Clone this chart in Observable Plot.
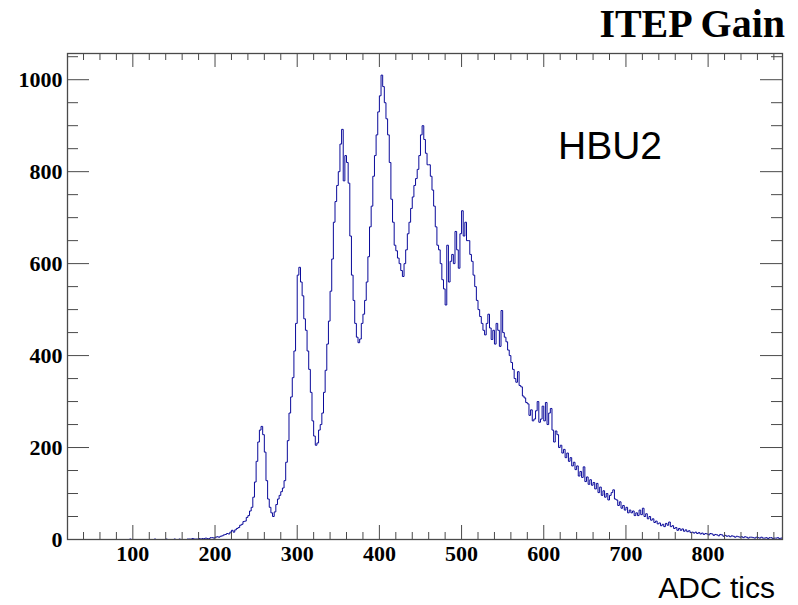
<!DOCTYPE html>
<html>
<head>
<meta charset="utf-8">
<script src="https://cdn.jsdelivr.net/npm/d3@7"></script>
<script src="https://cdn.jsdelivr.net/npm/@observablehq/plot@0.6"></script>
<style>
  html, body { margin: 0; padding: 0; background: white; }
  #chart { width: 798px; height: 605px; }
</style>
</head>
<body>
<div id="chart"></div>
<script>
// Histogram: ADC tics, bins of width 2 starting at 20
const binStart = 20;
const binWidth = 2;
const counts = [
  0,0,0,0,0,0,0,0,0,0,0,0,0,0,0,0,0,0,0,0,
  0,0,0,0,0,0,0,0,0,0,0,0,0,0,0,0,0,0,1,0,
  0,0,0,0,0,0,0,0,0,0,0,0,0,1,0,0,0,0,0,0,
  1,0,0,0,0,1,0,0,1,0,0,0,0,1,1,1,2,1,1,1,
  2,1,2,2,3,2,2,4,4,3,5,6,5,7,8,10,11,13,12,16,
  20,16,21,24,26,31,33,39,40,48,52,62,70,92,125,170,212,238,246,228,
  190,128,88,70,58,50,60,76,88,96,104,112,128,168,215,275,310,352,410,470,
  575,592,560,530,480,455,410,370,320,258,225,205,210,238,250,275,320,368,425,475,
  540,610,690,735,770,800,860,892,780,835,820,775,660,575,520,470,440,428,436,470,
  490,520,560,615,680,725,790,835,880,930,965,1010,985,950,915,880,820,740,690,640,
  628,612,600,585,572,600,630,665,690,720,745,770,785,805,835,880,900,870,840,815,
  815,790,760,725,680,640,630,600,565,545,510,640,560,605,620,600,670,630,590,665,
  715,660,690,650,650,620,605,575,550,520,500,485,470,455,445,470,490,460,435,455,
  425,470,455,420,498,450,440,430,412,400,385,370,350,342,365,335,332,312,308,298,
  295,270,282,258,262,280,300,255,262,290,258,298,250,275,285,238,212,236,228,200,
  205,188,196,178,188,170,178,160,168,152,160,138,148,135,158,126,136,120,130,118,
  124,110,122,102,114,96,106,92,100,86,96,102,108,88,86,74,82,68,74,64,
  70,58,64,58,62,52,58,52,64,54,68,50,56,45,50,42,45,37,40,34,
  36,30,33,28,35,31,38,28,30,24,26,20,24,20,23,18,21,17,19,15,
  16,14,16,13,15,12,14,11,13,12,10,13,12,9,11,10,8,11,10,7,
  9,7,8,6,8,7,5,7,6,5,6,4,6,5,3,5,5,4,3,5,
  4,3,5,3,3,4,2,4,4,2,3,3,4,2,3
];

const xLabels = [100, 200, 300, 400, 500, 600, 700, 800];
const xMinorAll = d3.range(40, 890, 20);
const yLabels = [0, 200, 400, 600, 800, 1000];
const yMinorAll = d3.range(50, 1057, 50);

const titleText = "ITEP Gain";
const panelText = "HBU2";
const xTitle = "ADC tics";

const xMinor = xMinorAll.filter(v => v % 100 !== 0);
const yMinor = yMinorAll.filter(v => v % 200 !== 0);

const hist = counts.map((c, i) => ({x: binStart + i * binWidth, y: c}));
hist.push({x: binStart + counts.length * binWidth, y: counts[counts.length - 1]});

const W = 798, H = 605, mL = 67, mR = 16, mT = 53, mB = 66;
const pw = W - mL - mR, ph = H - mT - mB;
const axisColor = "#4a4a4a";

const plot = Plot.plot({
  width: W,
  height: H,
  marginLeft: mL,
  marginRight: mR,
  marginTop: mT,
  marginBottom: mB,
  x: {domain: [20.5, 890.5], label: null},
  y: {domain: [0, 1057], label: null},
  style: {
    fontFamily: "'Liberation Serif', 'Times New Roman', serif",
    fontWeight: "bold",
    fontSize: "22px",
    background: "white",
    color: "black"
  },
  marks: [
    Plot.line(hist, {x: "x", y: "y", curve: "step-after", stroke: "#0a0a9a", strokeWidth: 1, clip: true}),
    Plot.frame({stroke: axisColor, strokeWidth: 1.3}),
    Plot.ruleX(xMinor, {insetTop: ph - 7, stroke: axisColor}),
    Plot.ruleX(xMinor, {insetBottom: ph - 7, stroke: axisColor}),
    Plot.ruleX(xLabels, {insetTop: ph - 14, stroke: axisColor}),
    Plot.ruleX(xLabels, {insetBottom: ph - 14, stroke: axisColor}),
    Plot.ruleY(yMinor, {insetRight: pw - 11, stroke: axisColor}),
    Plot.ruleY(yMinor, {insetLeft: pw - 11, stroke: axisColor}),
    Plot.ruleY(yLabels, {insetRight: pw - 22, stroke: axisColor}),
    Plot.ruleY(yLabels, {insetLeft: pw - 22, stroke: axisColor}),
    Plot.axisX(xLabels, {tickSize: 0, tickPadding: 6, label: null, fontSize: 22, tickFormat: d3.format("d")}),
    Plot.axisY(yLabels, {tickSize: 0, tickPadding: 5, label: null, fontSize: 22, tickFormat: d3.format("d")})
  ]
});

const svg = d3.select(plot);
svg.append("text")
  .attr("x", 785).attr("y", 37)
  .attr("text-anchor", "end")
  .style("font-family", "'Liberation Serif', 'Times New Roman', serif")
  .style("font-weight", "bold")
  .style("font-size", "40px")
  .attr("fill", "black")
  .text(titleText);
svg.append("text")
  .attr("x", 558).attr("y", 159)
  .attr("text-anchor", "start")
  .style("font-family", "'Liberation Sans', Arial, sans-serif")
  .style("font-weight", "normal")
  .style("font-size", "39px")
  .attr("fill", "black")
  .text(panelText);
svg.append("text")
  .attr("x", 775).attr("y", 598)
  .attr("text-anchor", "end")
  .style("font-family", "'Liberation Sans', Arial, sans-serif")
  .style("font-weight", "normal")
  .style("font-size", "30px")
  .attr("fill", "black")
  .text(xTitle);

document.getElementById("chart").appendChild(plot);
</script>
</body>
</html>
